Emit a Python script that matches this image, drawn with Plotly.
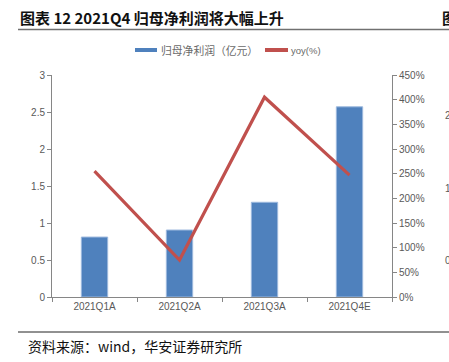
import plotly.graph_objects as go

categories = ["2021Q1A", "2021Q2A", "2021Q3A", "2021Q4E"]
profit = [0.81, 0.905, 1.28, 2.57]          # 归母净利润（亿元）
yoy = [255, 75, 405, 247]                   # yoy (%)
left_ticks = [0, 0.5, 1, 1.5, 2, 2.5, 3]
left_labels = ["0", "0.5", "1", "1.5", "2", "2.5", "3"]
right_ticks = [0, 50, 100, 150, 200, 250, 300, 350, 400, 450]
right_labels = [f"{v}%" for v in right_ticks]

W, H = 449, 362
L, R, T, B = 52, 392, 75, 297

def px(x):
    return (x - L) / (R - L)

def py(y):
    return (B - y) / (B - T)

BLUE = "#4F81BD"
RED = "#C0504D"
GRAY = "#595959"
AX = "#868686"
CJK = "Noto Sans CJK SC"

fig = go.Figure()
fig.add_trace(go.Bar(
    x=categories, y=profit, name="归母净利润（亿元）",
    marker=dict(color=BLUE, line=dict(color="#9DB9DE", width=1)),
    width=0.31, yaxis="y",
))
fig.add_trace(go.Scatter(
    x=categories, y=yoy, name="yoy(%)", mode="lines",
    line=dict(color=RED, width=3.2), yaxis="y2",
))

tickfont = dict(family="Liberation Sans, Arial", size=10, color=GRAY)

fig.update_layout(
    width=W, height=H,
    margin=dict(l=L, r=W - R, t=T, b=H - B),
    plot_bgcolor="white", paper_bgcolor="white",
    showlegend=False,
    xaxis=dict(
        type="category", showgrid=False, showline=True, linecolor=AX, linewidth=1,
        ticks="outside", tickson="boundaries", ticklen=4, tickcolor=AX,
        tickfont=tickfont, range=[-0.5, 3.5],
    ),
    yaxis=dict(
        range=[0, 3], tickvals=left_ticks, ticktext=left_labels,
        showgrid=False, showline=True, linecolor=AX, linewidth=1,
        ticks="outside", ticklen=4, tickcolor=AX, tickfont=tickfont, zeroline=False,
    ),
    yaxis2=dict(
        range=[0, 450], tickvals=right_ticks, ticktext=right_labels,
        overlaying="y", side="right",
        showgrid=False, showline=True, linecolor=AX, linewidth=1,
        ticks="outside", ticklen=4, tickcolor=AX, tickfont=tickfont, zeroline=False,
    ),
)

shapes = [
    # title rule
    dict(type="line", xref="paper", yref="paper", x0=px(18), x1=px(449), y0=py(29.5), y1=py(29.5),
         line=dict(color="#707070", width=1.5)),
    # bottom rule
    dict(type="line", xref="paper", yref="paper", x0=px(18), x1=px(449), y0=py(332), y1=py(332),
         line=dict(color="#222222", width=1)),
    # legend swatches
    dict(type="line", xref="paper", yref="paper", x0=px(135), x1=px(157), y0=py(50), y1=py(50),
         line=dict(color=BLUE, width=4)),
    dict(type="line", xref="paper", yref="paper", x0=px(265), x1=px(288), y0=py(50), y1=py(50),
         line=dict(color=RED, width=4)),
]
fig.update_layout(shapes=shapes)

ann = [
    dict(text="<b>图表 12 2021Q4 归母净利润将大幅上升</b>", x=px(18), y=py(17), xanchor="left", yanchor="middle",
         font=dict(family=CJK, size=15, color="#111111")),
    dict(text="<b>图</b>", x=px(440), y=py(17), xanchor="left", yanchor="middle",
         font=dict(family=CJK, size=15, color="#111111")),
    dict(text="归母净利润（亿元）", x=px(159), y=py(50.5), xanchor="left", yanchor="middle",
         font=dict(family=CJK, size=10.8, color="#6a6a6a")),
    dict(text="yoy(%)", x=px(289), y=py(50.5), xanchor="left", yanchor="middle",
         font=dict(family="Liberation Sans, Arial", size=9.5, color="#6a6a6a")),
    dict(text="资料来源：wind，华安证券研究所", x=px(26), y=py(346), xanchor="left", yanchor="middle",
         font=dict(family=CJK, size=14, color="#111111")),
    # fragments of neighbouring chart at the right edge
    dict(text="2", x=px(443), y=py(115), xanchor="left", yanchor="middle",
         font=dict(family="Liberation Sans, Arial", size=10, color=GRAY)),
    dict(text="1", x=px(443), y=py(188), xanchor="left", yanchor="middle",
         font=dict(family="Liberation Sans, Arial", size=10, color=GRAY)),
    dict(text="0", x=px(443), y=py(260), xanchor="left", yanchor="middle",
         font=dict(family="Liberation Sans, Arial", size=10, color=GRAY)),
]
for a in ann:
    a.update(xref="paper", yref="paper", showarrow=False)
fig.update_layout(annotations=ann)

fig.write_html(
    "out.html",
    config={"displayModeBar": False},
    post_script="document.body.style.margin='0';document.body.style.overflow='hidden';",
)
